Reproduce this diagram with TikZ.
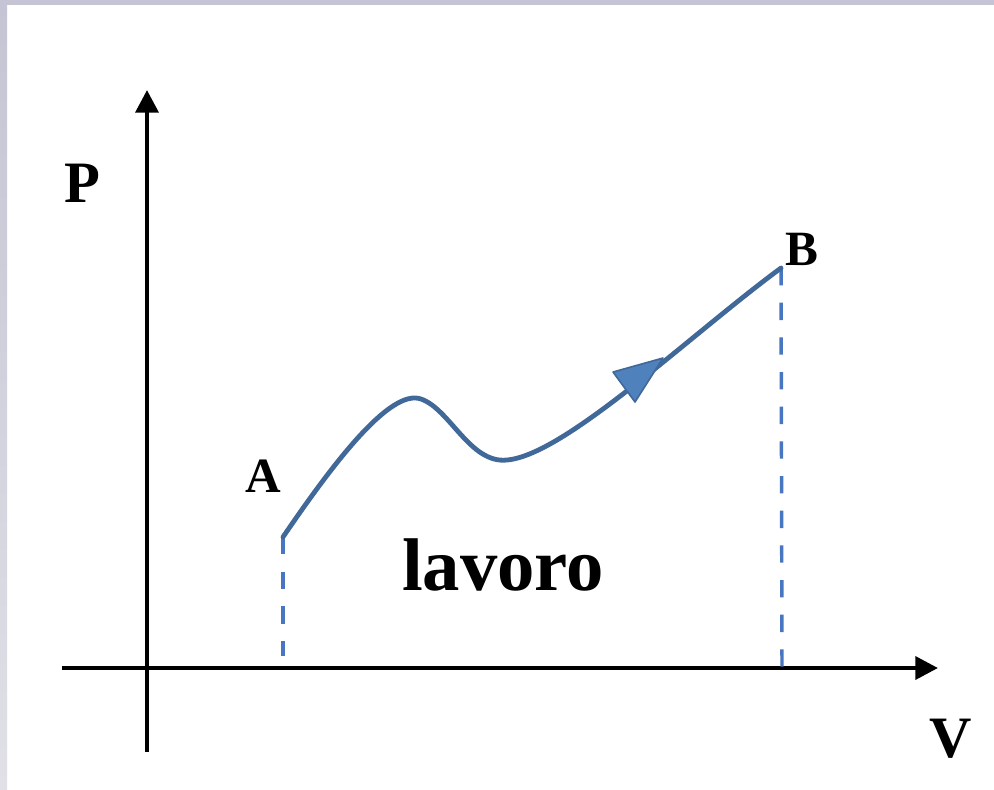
\documentclass[tikz,border=0pt]{standalone}
\usepackage{fontspec}
\setmainfont{Liberation Serif}
\usetikzlibrary{arrows.meta}

\definecolor{curveblue}{RGB}{64,104,152}
\definecolor{tipblue}{RGB}{79,129,189}
\definecolor{dashblue}{RGB}{72,118,192}
\definecolor{framegray}{RGB}{196,196,212}
\definecolor{framelight}{RGB}{224,224,230}

\begin{document}
\begin{tikzpicture}[x=0.75pt, y=-0.75pt,
  axis/.style={line width=3.4pt, -{Triangle[length=17pt, width=17pt]}},
  drop/.style={dashblue, line width=2.6pt, dash pattern=on 13pt off 13pt},
  path/.style={curveblue, line width=3.6pt, line cap=round},
  biglabel/.style={font=\fontsize{44}{48}\selectfont\bfseries, anchor=base, inner sep=0pt},
  ptlabel/.style={font=\fontsize{37}{40}\selectfont\bfseries, anchor=base, inner sep=0pt},
]
\useasboundingbox (0,0) rectangle (994,789);

% === FRAME ===
\fill[white] (0,0) rectangle (994,789);
\fill[framegray] (0,0) rectangle (994,5);
\shade[top color=framegray, bottom color=framelight] (0,0) rectangle (7,789);

% === AXES ===
\coordinate (ybot) at (147,752);
\coordinate (ytop) at (147,90);
\coordinate (xleft) at (62,668);
\coordinate (xright) at (938,668);
\draw[axis] (ybot) -- (ytop);
\draw[axis] (xleft) -- (xright);

\node[biglabel] (P) at (82,202) {P};
\node[biglabel] (V) at (951,757) {V};

% === STATES A AND B ===
\coordinate (A) at (283,537);
\coordinate (B) at (781,268);
\coordinate (Afoot) at (283,656);
\coordinate (Bfoot) at (782,668);

\draw[drop] (A) -- (Afoot);
\draw[drop] (B) -- (Bfoot);

\draw[path] (A) .. controls (332,465) and (390,388) .. (421,399)
  .. controls (450,409) and (470,464) .. (507,460)
  .. controls (565,455) and (690,335) .. (B);

% direction of the transformation
\filldraw[fill=tipblue, draw=curveblue, line width=1.2pt, line join=round]
  (663,358) -- (613,372) -- (635,402) -- cycle;

\node[ptlabel] (labA) at (263,492) {A};
\node[ptlabel] (labB) at (802,265) {B};

\node[font=\fontsize{56}{60}\selectfont\bfseries, anchor=base, inner sep=0pt] (work) at (503,590) {lavoro};
\end{tikzpicture}
\end{document}
